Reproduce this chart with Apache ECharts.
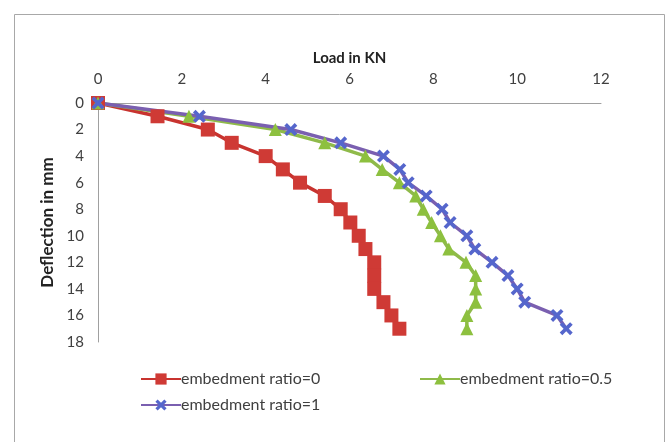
<!DOCTYPE html>
<html>
<head>
<meta charset="utf-8">
<script src="https://cdn.jsdelivr.net/npm/echarts@6/dist/echarts.min.js"></script>
<style>
  html, body { margin: 0; padding: 0; background: #fff; }
  #main { width: 670px; height: 442px; }
</style>
</head>
<body>
<div id="main"></div>
<script>
// 荷载-沉降曲线

var deflection = [0, 1, 2, 3, 4, 5, 6, 7, 8, 9, 10, 11, 12, 13, 14, 15, 16, 17];
var loadRatio0 = [0, 1.42, 2.62, 3.19, 4.0, 4.41, 4.82, 5.41, 5.79, 6.02, 6.22, 6.38, 6.59, 6.59, 6.59, 6.81, 7.0, 7.19];
var loadRatio05 = [0, 2.17, 4.23, 5.41, 6.38, 6.78, 7.19, 7.58, 7.76, 7.96, 8.17, 8.37, 8.78, 9.01, 9.01, 9.01, 8.8, 8.8];
var loadRatio1 = [0, 2.42, 4.6, 5.79, 6.81, 7.2, 7.4, 7.83, 8.21, 8.4, 8.8, 8.99, 9.4, 9.78, 10.0, 10.18, 10.95, 11.17];
var seriesNames = ['embedment ratio=0', 'embedment ratio=0.5', 'embedment ratio=1'];

function pairs(loads) {
    return loads.map(function (v, i) { return [v, deflection[i]]; });
}

var starPath = 'path://M2,0 L5,3 L8,0 L10,2 L7,5 L10,8 L8,10 L5,7 L2,10 L0,8 L3,5 L0,2 Z';

var myChart = echarts.init(document.getElementById('main'));

var labelFont = { fontFamily: 'Lato', fontSize: 15, color: '#404040' };
var legendText = { fontFamily: 'Lato', fontSize: 16, color: '#404040', padding: [0, 0, 0, -5] };

var option = {
    backgroundColor: '#fff',
    animation: false,
    graphic: [{
        type: 'rect',
        shape: { x: 14.5, y: 14.5, width: 650, height: 440 },
        style: { fill: 'none', stroke: '#a8a8a8', lineWidth: 1 }
    }],
    grid: { left: 98, right: 69, top: 103, bottom: 100 },
    legend: [
        {
            data: [seriesNames[0]], left: 135, top: 366,
            itemWidth: 40, itemHeight: 14,
            textStyle: legendText
        },
        {
            data: [seriesNames[1]], left: 414, top: 366,
            itemWidth: 40, itemHeight: 14,
            textStyle: legendText
        },
        {
            data: [seriesNames[2]], left: 135, top: 392,
            itemWidth: 40, itemHeight: 14,
            textStyle: legendText
        }
    ],
    xAxis: {
        type: 'value',
        position: 'top',
        min: 0, max: 12, interval: 2,
        name: 'Load in KN',
        nameLocation: 'middle',
        nameGap: 37,
        nameTextStyle: { fontFamily: 'Lato', fontSize: 15, fontWeight: 'bold', color: '#222' },
        axisLine: { show: true, lineStyle: { color: '#a0a0a0', width: 1 } },
        axisTick: { show: false },
        splitLine: { show: false },
        axisLabel: Object.assign({ margin: 16 }, labelFont)
    },
    yAxis: {
        type: 'value',
        inverse: true,
        min: 0, max: 18, interval: 2,
        name: 'Deflection in mm',
        nameLocation: 'middle',
        nameRotate: 90,
        nameGap: 37,
        nameTextStyle: { fontFamily: 'Lato', fontSize: 17, fontWeight: 'bold', color: '#222' },
        axisLine: { show: true, lineStyle: { color: '#a0a0a0', width: 1 } },
        axisTick: { show: false },
        splitLine: { show: false },
        axisLabel: Object.assign({ margin: 14 }, labelFont)
    },
    series: [
        {
            name: seriesNames[0],
            type: 'line',
            data: pairs(loadRatio0),
            symbol: 'rect', symbolSize: 14,
            lineStyle: { color: '#c8332f', width: 3.5 },
            itemStyle: { color: '#cf3a35' }
        },
        {
            name: seriesNames[1],
            type: 'line',
            data: pairs(loadRatio05),
            symbol: 'triangle', symbolSize: 13,
            lineStyle: { color: '#8fba4a', width: 3.5 },
            itemStyle: { color: '#8dc03f' }
        },
        {
            name: seriesNames[2],
            type: 'line',
            data: pairs(loadRatio1),
            symbol: starPath, symbolSize: 13,
            lineStyle: { color: '#7a5fb0', width: 3.5 },
            itemStyle: { color: '#5566cc' }
        }
    ]
};

myChart.setOption(option);
</script>
</body>
</html>
